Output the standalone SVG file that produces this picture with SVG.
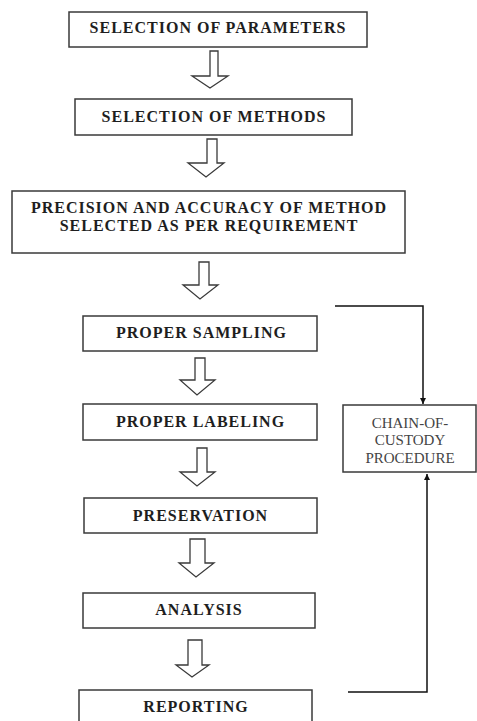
<svg xmlns="http://www.w3.org/2000/svg" width="477" height="721" viewBox="0 0 477 721">
<defs>
<style>
.box{fill:#fff;stroke:#3a3a3a;stroke-width:1.5}
.t{font-family:"Liberation Serif","Times New Roman",serif;font-weight:bold;font-size:16px;letter-spacing:1px;fill:#1e1e1e;text-anchor:middle}
.c{font-family:"Liberation Serif","Times New Roman",serif;font-size:15px;fill:#444;text-anchor:middle}
.ar{fill:#fff;stroke:#3a3a3a;stroke-width:1.3;stroke-linejoin:miter}
.ln{fill:none;stroke:#111;stroke-width:1.5}
</style>
<marker id="ah" viewBox="0 0 10 10" refX="10" refY="5" markerWidth="6" markerHeight="6" orient="auto" markerUnits="userSpaceOnUse">
<path d="M0,0 L10,5 L0,10 z" fill="#111"/>
</marker>
</defs>
<rect width="477" height="721" fill="#fff"/>
<g id="n1"><rect class="box" x="69" y="12" width="298" height="35"/><text class="t" x="218" y="33">SELECTION OF PARAMETERS</text></g>
<g id="n2"><rect class="box" x="75" y="99" width="277" height="36"/><text class="t" x="214" y="122">SELECTION OF METHODS</text></g>
<g id="n3"><rect class="box" x="12" y="191" width="393" height="62"/><text class="t" x="209" y="213">PRECISION AND ACCURACY OF METHOD</text><text class="t" x="209" y="231">SELECTED AS PER REQUIREMENT</text></g>
<g id="n4"><rect class="box" x="83" y="316" width="234" height="35"/><text class="t" x="201.5" y="338">PROPER SAMPLING</text></g>
<g id="n5"><rect class="box" x="83" y="404" width="234" height="36"/><text class="t" x="200.5" y="427">PROPER LABELING</text></g>
<g id="n6"><rect class="box" x="84" y="498" width="233" height="35"/><text class="t" x="200.5" y="521">PRESERVATION</text></g>
<g id="n7"><rect class="box" x="83" y="593" width="232" height="35"/><text class="t" x="199" y="615">ANALYSIS</text></g>
<g id="n8"><rect class="box" x="79" y="690" width="233" height="40"/><text class="t" x="196" y="712">REPORTING</text></g>
<g id="n9"><rect class="box" x="343" y="405" width="133" height="67" stroke="#666"/><text class="c" x="410" y="428">CHAIN-OF-</text><text class="c" x="410" y="445">CUSTODY</text><text class="c" x="410" y="463">PROCEDURE</text></g>
<g id="connectors">
<path class="ar" d="M210,51 H218 V76 H228 L210,88 L192,76 H210 Z"/>
<path class="ar" d="M207,139 H217 V163 H224 L206,177 L188,163 H207 Z"/>
<path class="ar" d="M199,262 H209 V285 H218 L200,299 L183,285 H199 Z"/>
<path class="ar" d="M195,358 H205 V380 H215 L197,395 L180,380 H195 Z"/>
<path class="ar" d="M197,448 H207 V472 H215 L197,486 L180,472 H197 Z"/>
<path class="ar" d="M190,539 H205 V563 H214 L196,577 L179,563 H190 Z"/>
<path class="ar" d="M188,640 H202 V665 H209 L192,677 L176,665 H188 Z"/>
<path class="ln" d="M335,306 H423 V404" marker-end="url(#ah)"/>
<path class="ln" d="M348,692 H427 V474" marker-end="url(#ah)" stroke="#222"/>
</g>
</svg>
